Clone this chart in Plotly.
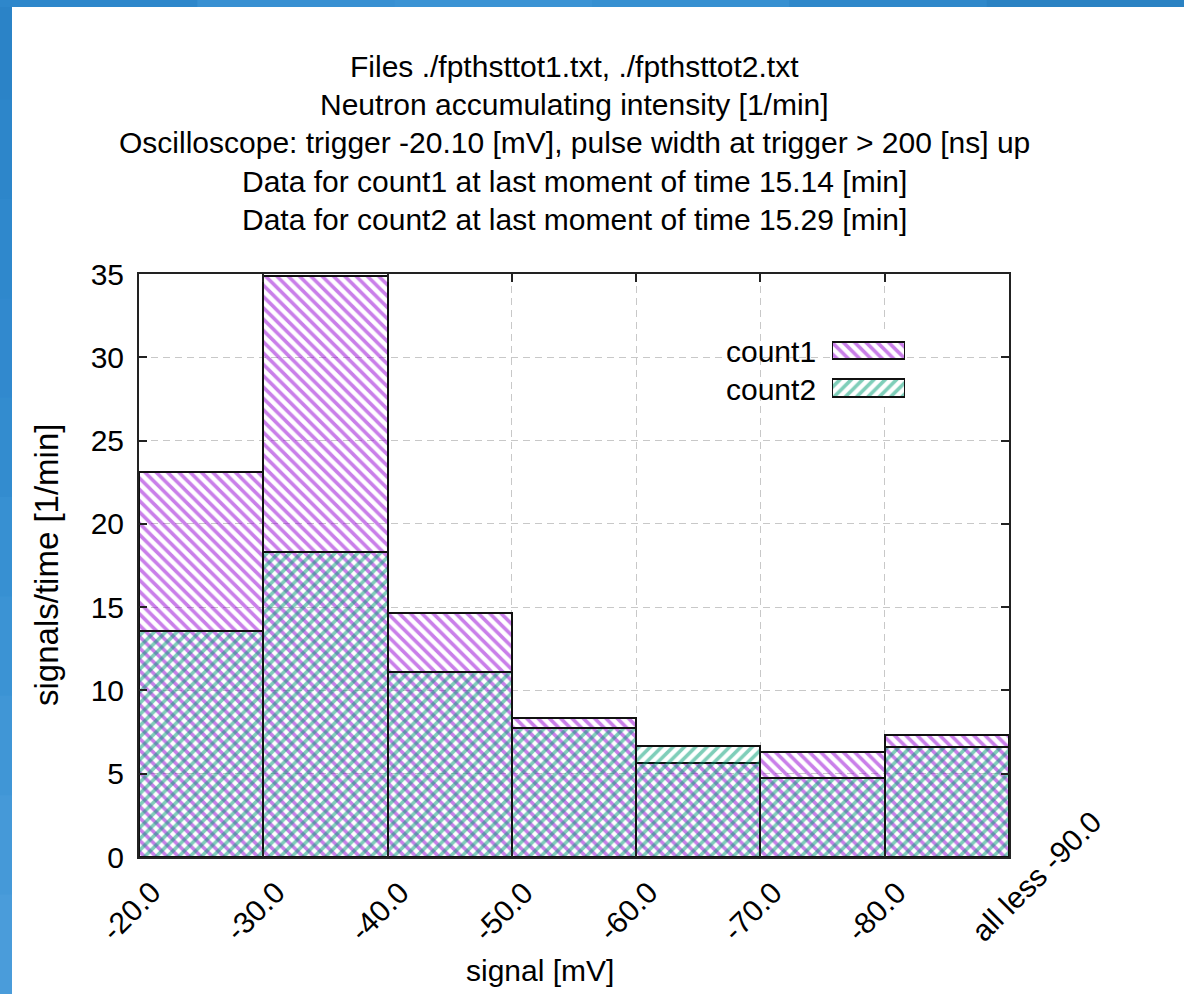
import plotly.graph_objects as go

# Histogram bins (signal thresholds in mV) and accumulated intensities [1/min]
bin_edges = ["-20.0", "-30.0", "-40.0", "-50.0", "-60.0", "-70.0", "-80.0", "all less -90.0"]
count1 = [23.10, 34.90, 14.66, 8.32, 5.66, 6.32, 7.34]
count2 = [13.58, 18.34, 11.10, 7.72, 6.64, 4.76, 6.62]
series_names = ["count1", "count2"]

title_lines = [
    "Files ./fpthsttot1.txt, ./fpthsttot2.txt",
    "Neutron accumulating intensity [1/min]",
    "Oscilloscope: trigger -20.10 [mV], pulse width at trigger > 200 [ns] up",
    "Data for count1 at last moment of time 15.14 [min]",
    "Data for count2 at last moment of time 15.29 [min]",
]

# Page geometry (pixels)
W, H = 1184, 994
L, R, T, B = 139, 1009, 274, 857
FONT = "Liberation Sans, Arial, sans-serif"
PURPLE = "#9400d3"
GREEN = "#009e73"
HATCH_SIZE = 8
HATCH_SOLID = 0.45


def px_x(px):
    return (px - L) / (R - L)


def px_y(py):
    return (B - py) / (B - T)


centers = [i + 0.5 for i in range(len(count1))]
edges = list(range(len(bin_edges)))

fig = go.Figure()
fig.add_trace(go.Bar(
    x=centers, y=count1, width=1, name=series_names[0], showlegend=False,
    marker=dict(color="rgba(0,0,0,0)",
                line=dict(color="#111", width=2),
                pattern=dict(shape="\\", fgcolor=PURPLE, bgcolor="rgba(0,0,0,0)",
                             size=HATCH_SIZE, solidity=HATCH_SOLID)),
))
fig.add_trace(go.Bar(
    x=centers, y=count2, width=1, name=series_names[1], showlegend=False,
    marker=dict(color="rgba(0,0,0,0)",
                line=dict(color="#111", width=2),
                pattern=dict(shape="/", fgcolor=GREEN, bgcolor="rgba(0,0,0,0)",
                             size=HATCH_SIZE, solidity=HATCH_SOLID)),
))

# Key samples drawn on a small auxiliary axis pair
for name, shape, col in [(series_names[0], "\\", PURPLE), (series_names[1], "/", GREEN)]:
    fig.add_trace(go.Bar(
        x=[1], y=[name], base=0, orientation="h", width=0.47, showlegend=False,
        xaxis="x2", yaxis="y2", hoverinfo="skip",
        marker=dict(color="rgba(0,0,0,0)", line=dict(color="#111", width=2),
                    pattern=dict(shape=shape, fgcolor=col, bgcolor="white",
                                 size=HATCH_SIZE, solidity=HATCH_SOLID)),
    ))

annotations = []
for name in series_names:
    annotations.append(dict(
        x=0, y=name, xref="x2", yref="y2", xanchor="right", yanchor="middle",
        xshift=-14, yshift=-1, text=name, showarrow=False,
        font=dict(family=FONT, size=30, color="black"),
    ))

# Rotated bin-edge labels, starting just left of each tick and rising to the right
for pos, lab in zip(edges, bin_edges):
    annotations.append(dict(
        x=pos, y=px_y(950), xref="x", yref="paper", xanchor="left",
        yanchor="bottom", xshift=-47, text=lab, textangle=-45, showarrow=False,
        font=dict(family=FONT, size=30, color="black"),
    ))

title_rows = [67, 104, 142, 181, 219]
for line, row in zip(title_lines, title_rows):
    annotations.append(dict(
        x=0.5, y=px_y(row), xref="paper", yref="paper", xanchor="center",
        yanchor="middle", text=line, showarrow=False,
        font=dict(family=FONT, size=30, color="black"),
    ))

annotations.append(dict(
    x=px_x(540), y=px_y(970), xref="paper", yref="paper", xanchor="center",
    yanchor="middle", text="signal [mV]", showarrow=False,
    font=dict(family=FONT, size=30, color="black"),
))
annotations.append(dict(
    x=px_x(46), y=px_y(565), xref="paper", yref="paper", xanchor="center",
    yanchor="middle", text="signals/time [1/min]", textangle=-90, showarrow=False,
    font=dict(family=FONT, size=33, color="black"),
))

# Blue window frame along the top and left edges
shapes = []
left_cols = ["#2b83c7", "#2d86ca", "#2f88cc", "#3189ce", "#338ccf", "#3790d2",
             "#3b93d4", "#4096d6", "#4599d8", "#4a9cda"]
n = len(left_cols)
for i, c in enumerate(left_cols):
    y0 = i * H / n
    y1 = (i + 1) * H / n + 1
    shapes.append(dict(type="rect", xref="paper", yref="paper", layer="above",
                       x0=px_x(0), x1=px_x(12), y0=px_y(y1), y1=px_y(y0),
                       fillcolor=c, line=dict(width=0)))
top_cols = ["#2e87cb", "#3890d2", "#3b93d4", "#3790d1", "#2f88ca", "#2a82c3"]
m = len(top_cols)
for i, c in enumerate(top_cols):
    x0 = i * W / m
    x1 = (i + 1) * W / m + 1
    shapes.append(dict(type="rect", xref="paper", yref="paper", layer="above",
                       x0=px_x(x0), x1=px_x(x1), y0=px_y(7), y1=px_y(0),
                       fillcolor=c, line=dict(width=0)))

axis_common = dict(
    showline=True, linecolor="#222", linewidth=2, mirror="ticks",
    ticks="inside", ticklen=8, tickwidth=1.5, tickcolor="#222",
    showgrid=True, gridcolor="#c8c8c8", gridwidth=1.2, griddash="7px,5px",
    zeroline=False, automargin=False,
    tickfont=dict(family=FONT, size=30, color="black"),
)

fig.update_layout(
    width=W, height=H, autosize=False,
    margin=dict(l=L, r=W - R, t=T, b=H - B, pad=0),
    paper_bgcolor="white", plot_bgcolor="white",
    barmode="overlay", bargap=0,
    showlegend=False,
    xaxis=dict(range=[0, len(count1)], tickmode="array", tickvals=edges,
               showticklabels=False, **axis_common),
    yaxis=dict(range=[0, 35], dtick=5, ticklabelstandoff=7, **axis_common),
    xaxis2=dict(domain=[px_x(832), px_x(905)], range=[0, 1], anchor="y2",
                visible=False, fixedrange=True, automargin=False),
    yaxis2=dict(domain=[px_y(407), px_y(331)], anchor="x2", type="category",
                categoryorder="array", categoryarray=series_names,
                autorange="reversed", visible=False, fixedrange=True,
                automargin=False),
    annotations=annotations,
    shapes=shapes,
)

fig.write_html("out.html")
